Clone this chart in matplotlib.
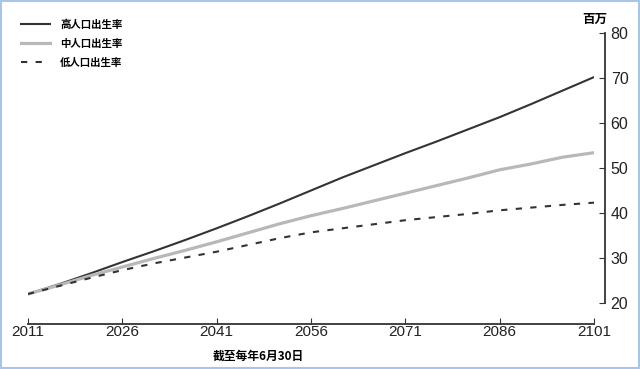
import numpy as np
import matplotlib.pyplot as plt
from matplotlib.patches import Rectangle

plt.rcParams['font.family'] = ['Liberation Sans', 'Noto Sans CJK SC', 'DejaVu Sans']

# values (millions), every 5 years
years  = np.arange(2011, 2102, 5)
high   = [22, 24.2, 26.6, 29.1, 31.5, 34.0, 36.6, 39.3, 42.1, 45.0,
          47.9, 50.6, 53.3, 55.9, 58.6, 61.3, 64.2, 67.2, 70.2]
medium = [22, 24.0, 26.1, 28.0, 29.9, 31.7, 33.6, 35.6, 37.6, 39.4,
          41.0, 42.7, 44.4, 46.1, 47.8, 49.6, 50.9, 52.4, 53.4]
low    = [22, 23.8, 25.6, 27.3, 28.8, 30.1, 31.4, 32.9, 34.4, 35.7,
          36.6, 37.5, 38.4, 39.1, 39.8, 40.6, 41.2, 41.8, 42.3]
labels = ['高人口出生率', '中人口出生率', '低人口出生率']
xticks = list(range(2011, 2102, 15))
yticks = list(range(20, 81, 10))

W, H = 640, 369
fig = plt.figure(figsize=(W / 100, H / 100), dpi=100)
ax = fig.add_axes([28 / W, (H - 303) / H, (594 - 28) / W, (303 - 33) / H])

ax.plot(years, high, color='#333333', lw=1.5, label=labels[0])
ax.plot(years, medium, color='#b8b8b8', lw=2.3, label=labels[1])
ax.plot(years, low, color='#333333', lw=1.5, ls=(0, (3, 4)), label=labels[2])

ax.set_xlim(2011, 2101)
ax.set_ylim(20, 80)
ax.set_xticks(xticks)
ax.set_yticks(yticks)

ax.spines[['top', 'left']].set_visible(False)
ax.spines['bottom'].set_position(('outward', 15))
ax.spines['right'].set_position(('outward', 8))
for s in ('bottom', 'right'):
    ax.spines[s].set_color('#333333')
    ax.spines[s].set_linewidth(1.3)

ax.yaxis.tick_right()
ax.tick_params(axis='x', direction='in', length=4, color='#333333',
               labelsize=11, pad=1, labelcolor='#222222')
ax.tick_params(axis='y', direction='in', length=4, color='#333333',
               labelsize=11.5, pad=4, labelcolor='#222222')

leg = ax.legend(loc='upper left', bbox_to_anchor=(12 / W, 1 - 10 / H),
                bbox_transform=fig.transFigure, frameon=False,
                handlelength=2.7, handletextpad=1.0, labelspacing=0.85,
                prop={'family': ['Noto Sans CJK SC', 'DejaVu Sans'],
                      'size': 7.5, 'weight': 'bold'})

fig.text(595 / W, 1 - 19 / H, '百万', ha='center', va='center',
         fontsize=9, fontweight='bold', family=['Noto Sans CJK SC'])
fig.text(258 / W, 1 - 356 / H, '截至每年6月30日', ha='center', va='center',
         fontsize=8.5, fontweight='bold', family=['Noto Sans CJK SC'])

fig.patches.append(Rectangle((0.001, 0.002), 0.997, 0.995, transform=fig.transFigure,
                             fill=False, edgecolor='#a8c4e6', lw=1.5))

fig.savefig('out.png', dpi=100)
